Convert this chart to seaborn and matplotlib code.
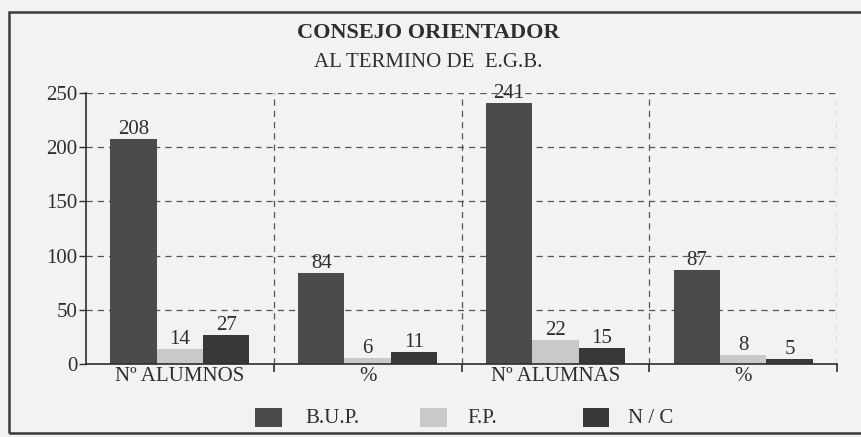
import pandas as pd
import matplotlib.pyplot as plt
import seaborn as sns
from matplotlib.patches import Rectangle
from matplotlib.ticker import FixedLocator

# Datos: consejo orientador al terminar E.G.B.
grupos = ['Nº ALUMNOS', '%', 'Nº ALUMNAS', '%']
bup = [208, 84, 241, 87]
fp = [14, 6, 22, 8]
nc = [27, 11, 15, 5]
series = ['B.U.P.', 'F.P.', 'N / C']
colores = ['#4b4b4b', '#c9c9c7', '#383838']

# tabla larga para seaborn (posición de grupo para separar los dos '%')
filas = []
for i, g in enumerate(grupos):
    for s, vals in zip(series, [bup, fp, nc]):
        filas.append({'pos': i, 'serie': s, 'valor': vals[i]})
df = pd.DataFrame(filas)

sns.set_style('white')
plt.rcParams['font.family'] = ['Liberation Serif', 'DejaVu Serif']
fondo = '#f1f2f1'
tinta = '#2e2e2e'

fig = plt.figure(figsize=(8.62, 4.37), dpi=100, facecolor=fondo)
ax = fig.add_axes([0.0998, 0.167, 0.8712, 0.62], facecolor=fondo)

sns.barplot(data=df, x='pos', y='valor', hue='serie', palette=colores,
            hue_order=series, width=0.74, ax=ax, legend=False,
            edgecolor='none', linewidth=0)

for cont in ax.containers:
    ax.bar_label(cont, fmt='%d', padding=0, fontsize=15, color=tinta)

ax.set_xlim(-0.5, 3.5)
ax.set_ylim(0, 250)
ax.set_yticks([0, 50, 100, 150, 200, 250])
ax.set_xticks(range(4))
ax.set_xticklabels(grupos)
ax.tick_params(axis='x', length=0, labelsize=15, pad=2, colors=tinta)
ax.tick_params(axis='y', length=5, width=1, labelsize=15, pad=1, colors=tinta,
               left=True, direction='out')
ax.xaxis.set_minor_locator(FixedLocator([0.5, 1.5, 2.5, 3.5]))
ax.tick_params(axis='x', which='minor', length=6, width=1.2, bottom=True, color=tinta)
ax.set_xlabel('')
ax.set_ylabel('')

# rejilla discontinua
for y in [50, 100, 150, 200, 250]:
    ax.axhline(y, color='#555555', lw=0.9, ls=(0, (5, 4)), zorder=0)
for x in [0.5, 1.5, 2.5, 3.5]:
    ax.axvline(x, color='#555555', lw=0.9, ls=(0, (5, 4)), zorder=0)

for lado in ['top', 'right']:
    ax.spines[lado].set_visible(False)
for lado in ['left', 'bottom']:
    ax.spines[lado].set_color(tinta)
    ax.spines[lado].set_linewidth(1.2)

fig.text(0.497, 0.925, 'CONSEJO ORIENTADOR', ha='center', va='center',
         fontsize=16, fontweight='bold', color=tinta)
fig.text(0.497, 0.858, 'AL TERMINO DE  E.G.B.', ha='center', va='center',
         fontsize=15, color=tinta)

# leyenda
for xc, xt, s, c in zip([0.296, 0.487, 0.676], [0.354, 0.542, 0.729], series, colores):
    fig.patches.append(Rectangle((xc, 0.023), 0.031, 0.043, transform=fig.transFigure,
                                 facecolor=c, edgecolor='none'))
    fig.text(xt, 0.043, s, ha='left', va='center', fontsize=15, color=tinta)

# marco de la figura (el borde derecho queda fuera del recorte)
fig.patches.append(Rectangle((0.010, 0.009), 1.0, 0.963, transform=fig.transFigure,
                             facecolor='none', edgecolor='#3a3a3a', lw=1.8))

plt.savefig('out.png', dpi=100, facecolor=fondo)
